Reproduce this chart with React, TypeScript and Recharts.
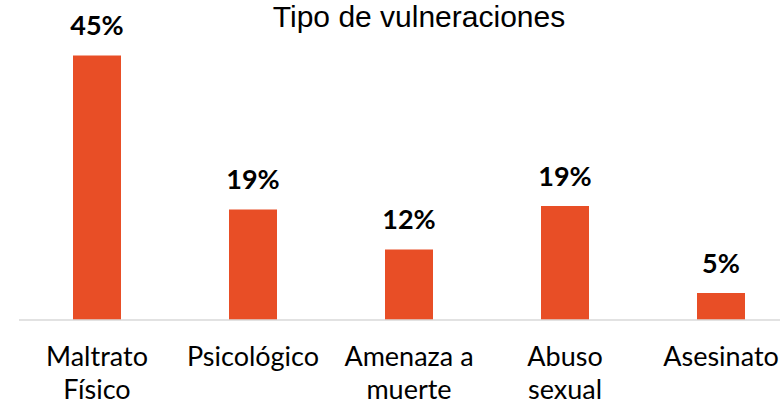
import React from 'react';
import { BarChart, Bar, XAxis, YAxis, LabelList } from 'recharts';

// Categories (\n marks the line break used on the axis)
const categories: string[] = [
  'Maltrato\nFísico',
  'Psicológico',
  'Amenaza a\nmuerte',
  'Abuso\nsexual',
  'Asesinato',
];

// Percent values
const percentages: number[] = [45, 18.8, 12, 19.4, 4.6];

const chartTitle = 'Tipo de vulneraciones';

const data = categories.map((name, i) => ({ name, value: percentages[i] }));

const BAR_COLOR = '#E84E26';
const TICK_FONT = 'Lato, "Open Sans", sans-serif';

const CategoryTick = (props: any) => {
  const { x, y, payload } = props;
  const lines: string[] = String(payload.value).split('\n');
  return (
    <text
      x={x}
      y={y}
      textAnchor="middle"
      fill="#000"
      fontFamily={TICK_FONT}
      fontSize={27}
    >
      {lines.map((line, i) => (
        <tspan key={i} x={x} y={y + 46 + i * 33}>
          {line}
        </tspan>
      ))}
    </text>
  );
};

export default function App() {
  return (
    <div
      style={{
        position: 'absolute',
        left: 0,
        top: 0,
        width: 780,
        height: 405,
        overflow: 'hidden',
        background: '#fff',
      }}
    >
      <BarChart
        width={800}
        height={405}
        data={data}
        margin={{ top: 26, right: 1, left: 19, bottom: 0 }}
        barSize={48}
      >
        <XAxis
          dataKey="name"
          axisLine={{ stroke: '#D9D9D9', strokeWidth: 1.5 }}
          tickLine={false}
          tickSize={0}
          tickMargin={0}
          interval={0}
          height={85}
          tick={<CategoryTick />}
        />
        <YAxis hide domain={[0, 50]} />
        <Bar dataKey="value" fill={BAR_COLOR} isAnimationActive={false}>
          <LabelList
            dataKey="value"
            position="top"
            offset={20}
            formatter={(v: any) => `${Math.round(Number(v))}%`}
            style={{
              fontFamily: TICK_FONT,
              fontWeight: 700,
              fontSize: 27,
              fill: '#000',
            }}
          />
        </Bar>
      </BarChart>
      <svg
        width={780}
        height={40}
        style={{ position: 'absolute', left: 0, top: 0, pointerEvents: 'none' }}
      >
        <text
          x={419}
          y={27}
          textAnchor="middle"
          fontFamily='"Liberation Sans", Arial, sans-serif'
          fontSize={30}
          fill="#000"
        >
          {chartTitle}
        </text>
      </svg>
    </div>
  );
}
